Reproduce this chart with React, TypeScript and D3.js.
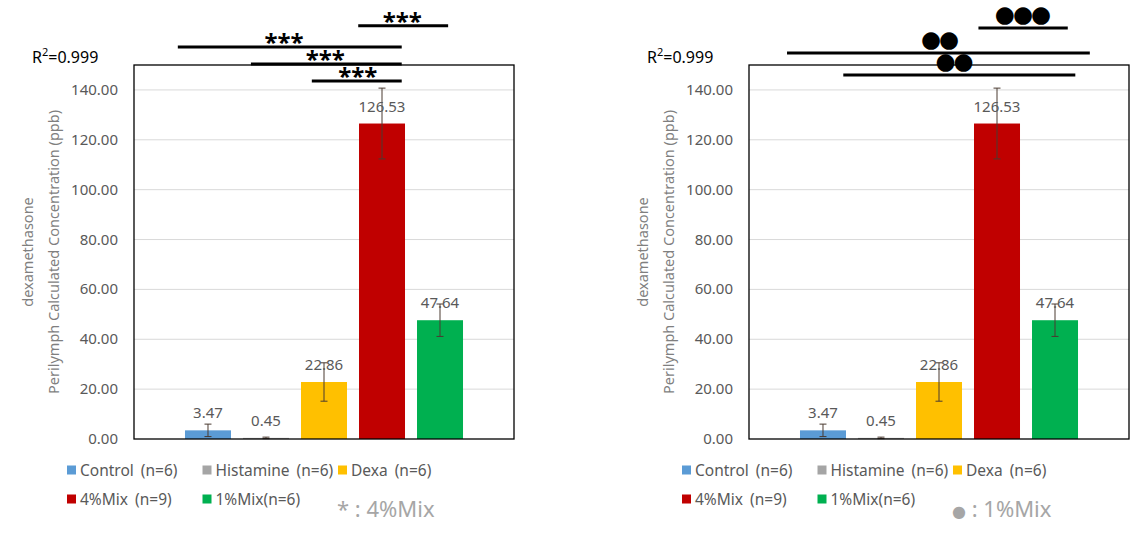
import React from 'react';
import * as d3 from 'd3';

const categories = ['Control (n=6)', 'Histamine (n=6)', 'Dexa (n=6)', '4%Mix (n=9)', '1%Mix(n=6)'];
const values = [3.47, 0.45, 22.86, 126.53, 47.64];
const errors = [2.5, 0.3, 7.7, 14.2, 6.5];
const colors = ['#5B9BD5', '#A5A5A5', '#FFC000', '#C00000', '#00B050'];
const yTicks = [0, 20, 40, 60, 80, 100, 120, 140];
const yTitle1 = 'dexamethasone';
const yTitle2 = 'Perilymph Calculated Concentration (ppb)';
const r2Label = '0.999';

// significance brackets: from/to in category-index units, level in value units
const sigLeftFrom = [2.59, -0.52, 0.74, 1.79];
const sigLeftTo = [4.14, 3.34, 3.34, 3.34];
const sigLeftLevel = [165.7, 157.2, 150.4, 143.6];
const sigLeftMark = ['***', '***', '***', '***'];
const sigLeftMarkPos = [3.35, 1.31, 2.02, 2.58];

const sigRightFrom = [2.68, -0.62, 0.35];
const sigRightTo = [4.22, 4.6, 4.35];
const sigRightLevel = [164.8, 154.8, 146.0];
const sigRightMark = ['●●●', '●●', '●●'];
const sigRightMarkPos = [3.43, 2.0, 2.25];

const FONT = "'Noto Sans', 'Open Sans', sans-serif";

type PanelProps = {
  dx: number;
  from: number[];
  to: number[];
  level: number[];
  marks: string[];
  markPos: number[];
  dots: boolean;
  noteSymbol: string;
  noteText: string;
};

function Panel({ dx, from, to, level, marks, markPos, dots, noteSymbol, noteText }: PanelProps) {
  const left = 134, right = 514, top = 65, bottom = 439;
  const x = d3.scaleBand<string>().domain(categories).range([left, right]).paddingInner(0.207).paddingOuter(0.879);
  const y = d3.scaleLinear().domain([0, 150]).range([bottom, top]);
  const step = x.step();
  const c0 = (x(categories[0]) as number) + x.bandwidth() / 2;
  const xi = d3.scaleLinear().domain([0, 1]).range([c0, c0 + step]);
  const cap = 3.5;

  return (
    <g transform={`translate(${dx},0)`}>
      {yTicks.filter(t => t > 0).map(t => (
        <line key={t} x1={left} x2={right} y1={y(t)} y2={y(t)} stroke="#d9d9d9" strokeWidth={1} />
      ))}
      {categories.map((c, i) => (
        <rect key={c} x={x(c)} y={y(values[i])} width={x.bandwidth()} height={y(0) - y(values[i])} fill={colors[i]} />
      ))}
      {categories.map((c, i) => {
        const cx = (x(c) as number) + x.bandwidth() / 2;
        return (
          <g key={c} stroke="#4a3a30" strokeWidth={1}>
            <line x1={cx} x2={cx} y1={y(values[i] + errors[i])} y2={y(values[i] - errors[i])} />
            <line x1={cx - cap} x2={cx + cap} y1={y(values[i] + errors[i])} y2={y(values[i] + errors[i])} />
            <line x1={cx - cap} x2={cx + cap} y1={y(values[i] - errors[i])} y2={y(values[i] - errors[i])} />
          </g>
        );
      })}
      {categories.map((c, i) => (
        <text key={c} x={(x(c) as number) + x.bandwidth() / 2} y={y(values[i]) - 12} textAnchor="middle"
          fontFamily={FONT} fontSize={15} fill="#595959">{values[i].toFixed(2)}</text>
      ))}
      <rect x={left} y={top} width={right - left} height={bottom - top} fill="none" stroke="#000" strokeWidth={1.3} />
      {yTicks.map(t => (
        <text key={t} x={left - 16} y={y(t) + 5} textAnchor="end" fontFamily={FONT} fontSize={15} fill="#595959">{t.toFixed(2)}</text>
      ))}
      <text transform={`translate(33,252) rotate(-90)`} textAnchor="middle" fontFamily={FONT} fontSize={14.5} fill="#7f7f7f">{yTitle1}</text>
      <text transform={`translate(59,252) rotate(-90)`} textAnchor="middle" fontFamily={FONT} fontSize={14.5} fill="#7f7f7f">{yTitle2}</text>
      <text x={32} y={63} fontFamily={FONT} fontSize={16} fill="#000">R<tspan fontSize={11} dy={-7}>2</tspan><tspan dy={7}>={r2Label}</tspan></text>
      {from.map((f, i) => (
        <g key={i}>
          <line x1={xi(f)} x2={xi(to[i])} y1={y(level[i])} y2={y(level[i])} stroke="#000" strokeWidth={3} />
          {dots ? (
            <text x={xi(markPos[i])} y={y(level[i]) - 6} textAnchor="middle" fontFamily="'DejaVu Sans'" fontSize={23} letterSpacing={-2} fill="#000">{marks[i]}</text>
          ) : (
            <text x={xi(markPos[i])} y={y(level[i]) + 4} textAnchor="middle" fontFamily={FONT} fontWeight="bold" fontSize={24} fill="#000">{marks[i]}</text>
          )}
        </g>
      ))}
      {categories.map((c, i) => {
        const col = i < 3 ? i : i - 3;
        const row = i < 3 ? 0 : 1;
        const lx = 67 + col * 135.5;
        const ly = 470 + row * 29;
        return (
          <g key={c}>
            <rect x={lx} y={ly - 4.5} width={9} height={9} fill={colors[i]} />
            <text x={lx + 13} y={ly + 5.5} fontFamily={FONT} fontSize={15.5} wordSpacing={3} fill="#595959">{c}</text>
          </g>
        );
      })}
      <text x={337} y={517} fontFamily={FONT} fontSize={22} fill="#a6a6a6">
        {dots ? <tspan fontFamily="'DejaVu Sans'" fontSize={16}>{noteSymbol}</tspan> : <tspan>{noteSymbol}</tspan>}
        <tspan>{noteText}</tspan>
      </text>
    </g>
  );
}

export default function App() {
  return (
    <svg width={1143} height={538} style={{ position: 'absolute', left: 0, top: 0, background: '#fff' }}>
      <rect width={1143} height={538} fill="#fff" />
      <Panel dx={0} from={sigLeftFrom} to={sigLeftTo} level={sigLeftLevel} marks={sigLeftMark} markPos={sigLeftMarkPos} dots={false} noteSymbol="*" noteText=" : 4%Mix" />
      <Panel dx={615} from={sigRightFrom} to={sigRightTo} level={sigRightLevel} marks={sigRightMark} markPos={sigRightMarkPos} dots={true} noteSymbol="●" noteText=" : 1%Mix" />
    </svg>
  );
}
